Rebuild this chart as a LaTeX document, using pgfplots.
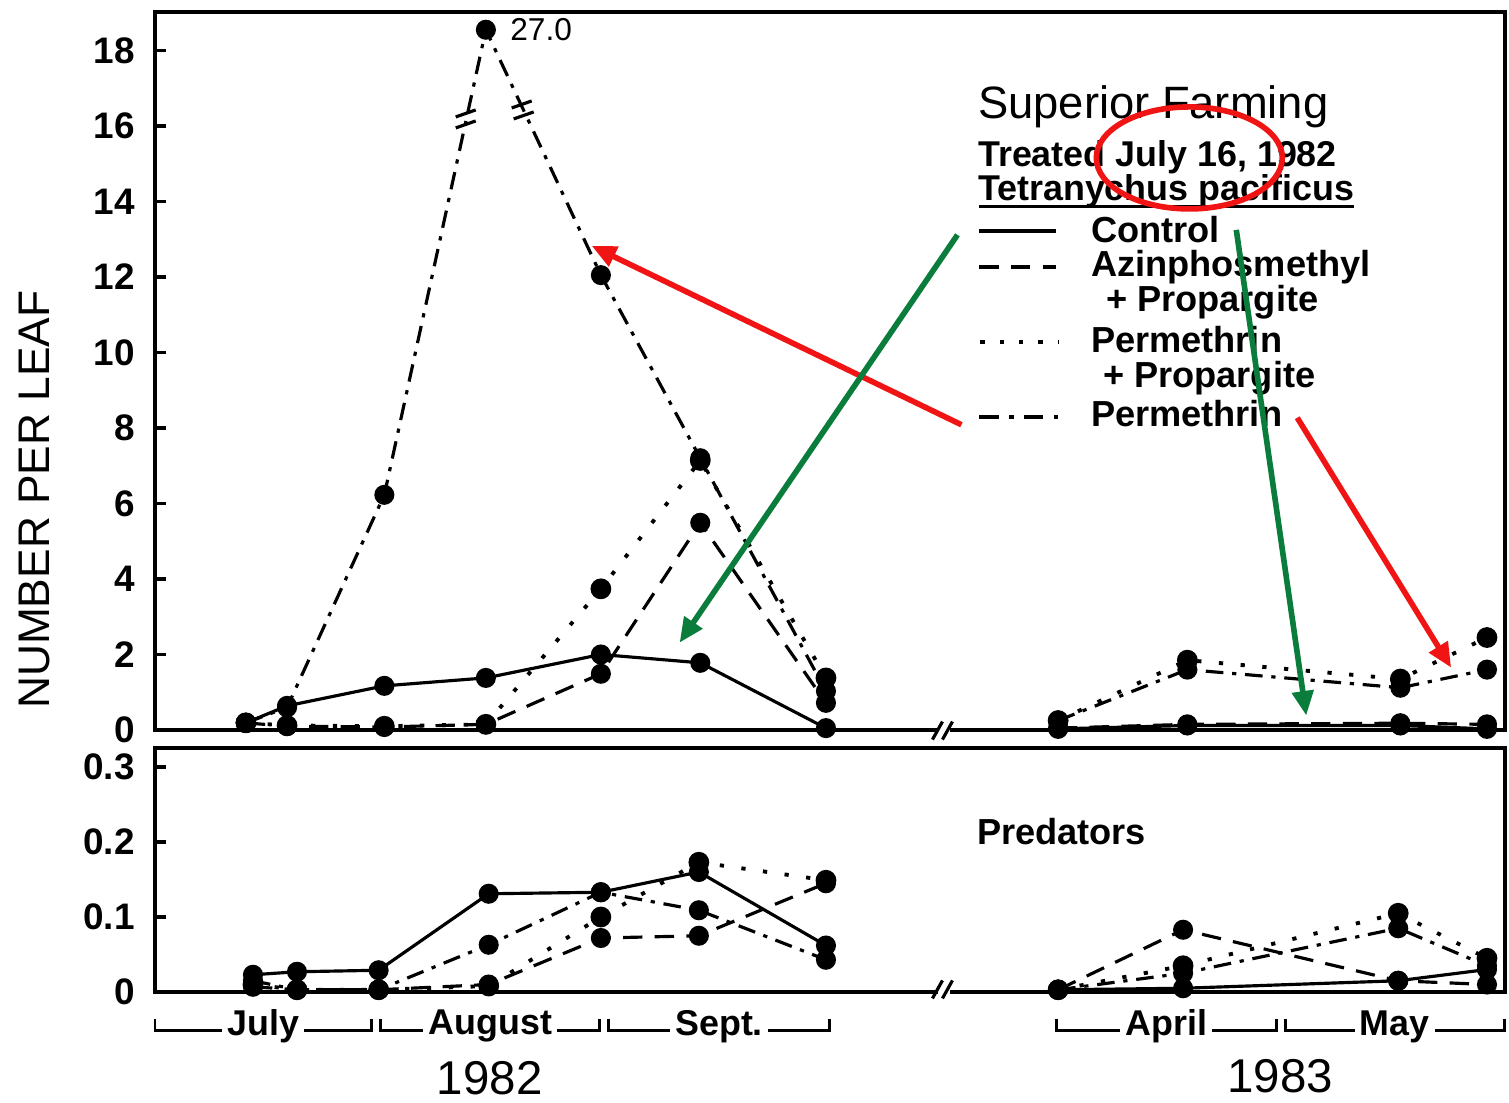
\documentclass[border=0pt]{standalone}
\usepackage{fontspec}
\setmainfont{Liberation Sans}
\usepackage{pgfplots}
\pgfplotsset{compat=1.18}
\usetikzlibrary{arrows.meta}
\definecolor{annred}{RGB}{240,20,20}
\definecolor{anngreen}{RGB}{10,125,60}
\pgfplotsset{
  panel/.style={scale only axis, width=13.5cm, xmin=0, xmax=190.14,
    xtick=\empty, ytick pos=left, tick align=inside,
    major tick length=0.11cm, tick style={black, line width=0.9pt},
    axis line style={line width=1.1pt}, clip=false,
    unbounded coords=jump,
    yticklabel style={font=\bfseries\fontsize{10.5}{12}\selectfont, xshift=-0.08cm}},
  ctrl/.style={black, line width=0.9pt, solid, mark=*, mark size=2.4pt, mark options={solid}},
  azin/.style={black, line width=0.9pt, dash pattern=on 5.5pt off 3.5pt, mark=*, mark size=2.4pt, mark options={solid}},
  pprop/.style={black, line width=1.1pt, dash pattern=on 1.2pt off 5pt, mark=*, mark size=2.4pt, mark options={solid}},
  perm/.style={black, line width=0.9pt, dash pattern=on 5pt off 2.5pt on 1.2pt off 2.5pt, mark=*, mark size=2.4pt, mark options={solid}},
}
\begin{document}
\begin{tikzpicture}
\useasboundingbox (0,0) rectangle (15.09,-11.02);

% ---------------- top panel: Tetranychus pacificus ----------------
\begin{axis}[panel, at={(1.55cm,-7.30cm)}, anchor=south west, height=7.18cm,
  ymin=0, ymax=19.02, ytick={0,2,...,18},
  yticklabels={0,2,4,6,8,10,12,14,16,18}]
\addplot[ctrl] coordinates {(12.8,0.19) (18.6,0.64) (32.3,1.17) (46.6,1.38) (62.8,2.00) (76.8,1.78) (94.5,0.05) (110,nan) (127.2,0.03) (145.4,0.12) (175.4,0.12) (187.6,0.03)};
\addplot[azin] coordinates {(12.8,0.19) (18.6,0.10) (32.3,0.08) (46.6,0.15) (62.8,1.49) (76.8,5.49) (94.5,0.72) (110,nan) (127.2,0.05) (145.4,0.15) (175.4,0.18) (187.6,0.15)};
\addplot[pprop] coordinates {(12.8,0.19) (18.6,0.12) (32.3,0.10) (46.6,0.15) (62.8,3.74) (76.8,7.14) (94.5,1.38) (110,nan) (127.2,0.25) (145.4,1.85) (175.4,1.35) (187.6,2.45)};
\addplot[perm] coordinates {(12.8,0.19) (18.6,0.60) (32.3,6.23) (46.6,18.55) (62.8,12.05) (76.8,7.20) (94.5,1.03) (110,nan) (127.2,0.25) (145.4,1.60) (175.4,1.12) (187.6,1.60)};
\end{axis}

% ---------------- bottom panel: Predators ----------------
\begin{axis}[panel, at={(1.55cm,-9.92cm)}, anchor=south west, height=2.44cm,
  ymin=0, ymax=0.3253, ytick={0,0.1,0.2,0.3},
  yticklabels={0,0.1,0.2,0.3}]
\addplot[ctrl] coordinates {(13.8,0.023) (20.0,0.027) (31.5,0.029) (47.0,0.131) (62.8,0.133) (76.6,0.160) (94.5,0.062) (110,nan) (127.2,0.003) (144.8,0.005) (175.1,0.015) (187.6,0.030)};
\addplot[azin] coordinates {(13.8,0.007) (20.0,0.003) (31.5,0.003) (47.0,0.010) (62.8,0.072) (76.6,0.075) (94.5,0.145) (110,nan) (127.2,0.003) (144.8,0.083) (175.1,0.015) (187.6,0.010)};
\addplot[pprop] coordinates {(13.8,0.010) (20.0,0.003) (31.5,0.003) (47.0,0.008) (62.8,0.100) (76.6,0.173) (94.5,0.149) (110,nan) (127.2,0.003) (144.8,0.035) (175.1,0.105) (187.6,0.045)};
\addplot[perm] coordinates {(13.8,0.015) (20.0,0.003) (31.5,0.003) (47.0,0.063) (62.8,0.133) (76.6,0.109) (94.5,0.043) (110,nan) (127.2,0.003) (144.8,0.025) (175.1,0.085) (187.6,0.035)};
\end{axis}

% ---------------- decorations in reference pixel units ----------------
\begin{scope}[x=0.01cm, y=-0.01cm]
  % value label of the off-scale point and break marks on the Permethrin line
  \node[anchor=west, inner sep=0pt] at (510,30) {\fontsize{9}{10}\selectfont 27.0};
  \draw[line width=0.9pt] (456,128)--(476,121);
  \draw[line width=0.9pt] (456,117)--(476,110);
  \draw[line width=0.9pt] (514,119)--(534,112);
  \draw[line width=0.9pt] (512,108)--(532,101);
  % axis breaks
  \fill[white] (939,724) rectangle (951,738);
  \draw[line width=0.9pt] (933,740)--(943,722);
  \draw[line width=0.9pt] (943,740)--(953,722);
  \fill[white] (939,983) rectangle (951,997);
  \draw[line width=0.9pt] (933,999)--(943,981);
  \draw[line width=0.9pt] (943,999)--(953,981);

  % legend block
  \node[anchor=base west, inner sep=0pt] at (978,119) {\fontsize{12.9}{15}\selectfont Superior Farming};
  \node[anchor=base west, inner sep=0pt] at (978,167) {\bfseries\fontsize{10.2}{12}\selectfont Treated July 16, 1982};
  \node[anchor=base west, inner sep=0pt] at (978,201) {\bfseries\fontsize{10.2}{12}\selectfont Tetranychus pacificus};
  \draw[line width=0.9pt] (980,207)--(1355,207);
  \draw[line width=1pt] (980,231)--(1057,231);
  \draw[line width=1pt, dash pattern=on 5.5pt off 3.5pt] (980,267)--(1057,267);
  \draw[line width=1.2pt, dash pattern=on 1.2pt off 4.3pt] (981,342)--(1060,342);
  \draw[line width=1pt, dash pattern=on 5.5pt off 3pt on 1.2pt off 3pt] (980,417)--(1060,417);
  \begin{scope}[every node/.style={anchor=west, inner sep=0pt, font=\bfseries\fontsize{10.3}{12}\selectfont}]
    \node at (1091,230) {Control};
    \node at (1091,267) {Azinphosmethyl};
    \node at (1106,302) {+ Propargite};
    \node at (1091,340) {Permethrin};
    \node at (1103,378) {+ Propargite};
    \node at (1091,414) {Permethrin};
    \node at (977,832) {Predators};
  \end{scope}

  % y label
  \node[rotate=90] at (35,500) {\fontsize{12.6}{14}\selectfont NUMBER PER LEAF};

  % month brackets
  \foreach \a/\b/\m in {155/372/July, 381/600/August, 609/830/Sept., 1057/1277/April, 1286/1505/May}{
    \draw[line width=0.8pt] (\a,1020)--(\a,1031)--(\b,1031)--(\b,1020);
    \node[fill=white, inner sep=1.5pt] at ({(\a+\b)/2},1027) {\bfseries\fontsize{10.2}{12}\selectfont \m};
  }
  \node at (490,1079) {\fontsize{13.5}{15}\selectfont 1982};
  \node at (1281,1077) {\fontsize{13.5}{15}\selectfont 1983};

  % annotations
  \draw[annred, line width=1.6pt] (1190,158) ellipse [x radius=0.93cm, y radius=0.51cm];
  \draw[annred, line width=1.6pt, -{Triangle[length=7pt,width=6pt]}] (962,425)--(592,246);
  \draw[annred, line width=1.6pt, -{Triangle[length=7pt,width=6pt]}] (1298,418)--(1452,668);
  \draw[anngreen, line width=1.6pt, -{Triangle[length=7pt,width=6pt]}] (958,235)--(680,643);
  \draw[anngreen, line width=1.6pt, -{Triangle[length=7pt,width=6pt]}] (1237,230)--(1307,716);
\end{scope}
\end{tikzpicture}
\end{document}
